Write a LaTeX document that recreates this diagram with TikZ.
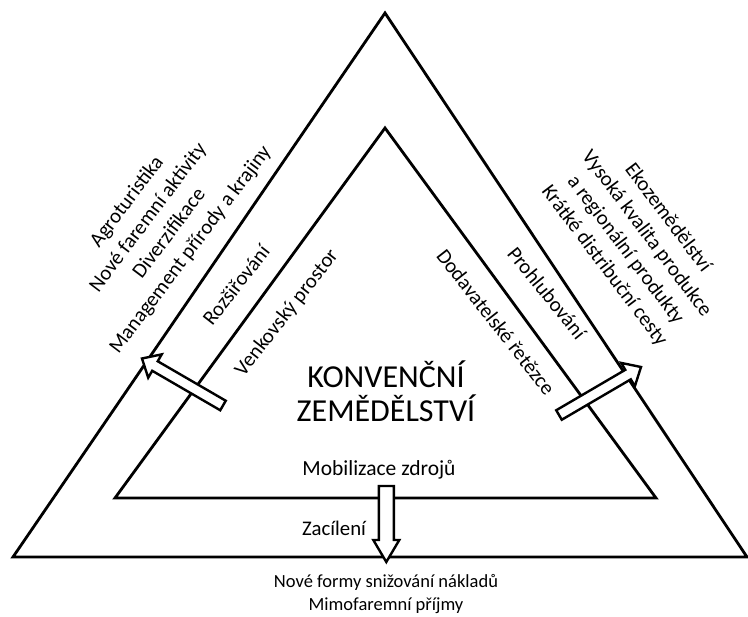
\documentclass[tikz,border=0pt]{standalone}
\usepackage{fontspec}
\setmainfont{Carlito}
\usetikzlibrary{calc}
\tikzset{
  tri/.style={draw=black, line width=2.8pt, line join=miter},
  blockarrow/.style={draw=black, fill=white, line width=2.4pt, line join=miter},
  lbl/.style={font=\fontsize{20.8}{26.5}\selectfont, inner sep=0pt, align=center},
  bigl/.style={font=\fontsize{32}{34}\selectfont, inner sep=0pt, align=center},
  botl/.style={font=\fontsize{18.5}{23}\selectfont, inner sep=0pt, align=center},
}
% block arrow: tail, tip, shaft half width, head half width, head length
\newcommand\blockarr[5]{%
  \coordinate (hb) at ($(#2)!#5pt!(#1)$);
  \draw[blockarrow] ($(#1)!#3pt!90:(#2)$) -- ($(hb)!#3pt!90:(#2)$) -- ($(hb)!#4pt!90:(#2)$) -- (#2)
     -- ($(hb)!#4pt!-90:(#2)$) -- ($(hb)!#3pt!-90:(#2)$) -- ($(#1)!#3pt!-90:(#2)$) -- cycle;
}
\begin{document}
\begin{tikzpicture}[x=1pt,y=1pt]
\useasboundingbox[fill=white] (0,0) rectangle (748,-617);
% triangles
\coordinate (oA) at (385,-13);
\coordinate (oL) at (13,-557);
\coordinate (oR) at (747,-557);
\coordinate (iA) at (385,-128);
\coordinate (iL) at (115,-498);
\coordinate (iR) at (656,-498);
\draw[tri] (oA) -- (oR) -- (oL) -- cycle;
\draw[tri] (iA) -- (iR) -- (iL) -- cycle;
% arrows
\coordinate (lT) at (223,-405.5);
\coordinate (lP) at (142,-358.5);
\coordinate (rT) at (559,-415);
\coordinate (rP) at (641,-367);
\coordinate (bT) at (386.3,-486);
\coordinate (bP) at (386.3,-562);
\blockarr{lT}{lP}{5.5}{13.5}{15}
\blockarr{rT}{rP}{5.5}{13.5}{15}
\blockarr{bT}{bP}{7.5}{13}{22}
% labels
\node[bigl] (conv) at (386,-391) {KONVENČNÍ\\ZEMĚDĚLSTVÍ};
\node[lbl, font=\fontsize{21.5}{26}\selectfont] (mob) at (379,-470) {Mobilizace zdrojů};
\node[lbl] (zac) at (334,-528) {Zacílení};
\node[botl] (bot) at (386,-594) {Nové formy snižování nákladů\\Mimofaremní příjmy};
\node[lbl, rotate=52] (roz) at (236,-285) {Rozšiřování};
\node[lbl, rotate=52] (ven) at (287,-313) {Venkovský prostor};
\node[lbl, rotate=-52] (dod) at (496,-322) {Dodavatelské řetězce};
\node[lbl, rotate=-51] (pro) at (547,-293) {Prohlubování};
\node[lbl, rotate=53] (lblock) at (159,-226) {Agroturistika\\Nové faremní aktivity\\Diverzifikace\\Management přírody a krajiny};
\node[lbl, rotate=-53] (rblock) at (636,-242) {Ekozemědělství\\Vysoká kvalita produkce\\a regionální produkty\\Krátké distribuční cesty};
\end{tikzpicture}
\end{document}
